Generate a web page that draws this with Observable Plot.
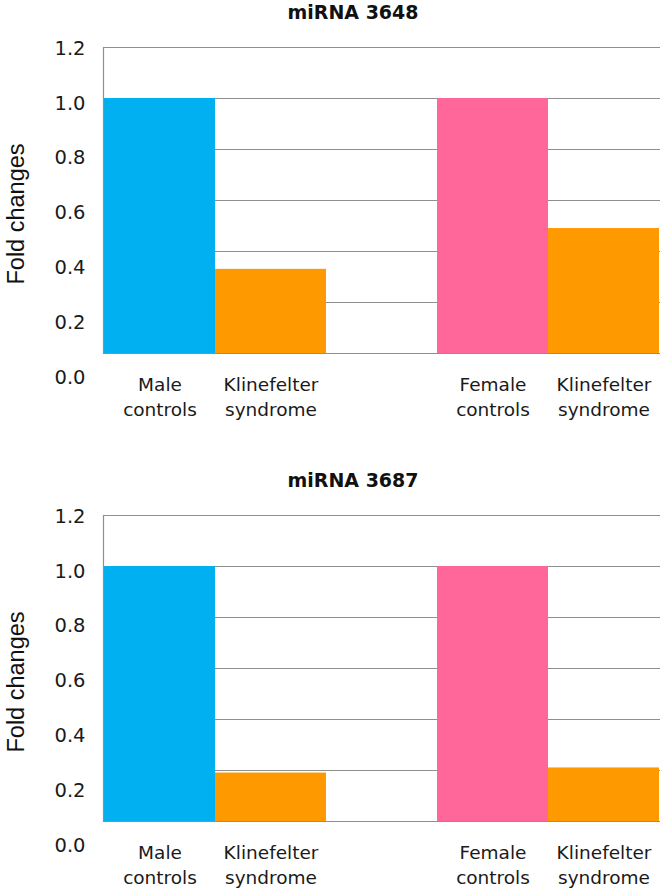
<!DOCTYPE html>
<html>
<head>
<meta charset="utf-8">
<script src="https://cdn.jsdelivr.net/npm/d3@7"></script>
<script src="https://cdn.jsdelivr.net/npm/@observablehq/plot@0.6"></script>
<style>
  html, body { margin: 0; padding: 0; background: #fff; overflow: hidden; }
  .panel { position: relative; width: 666px; }
  .panel svg { position: absolute; left: 0; top: 0; }
  .title { position: absolute; top: 1px; left: 353px; transform: translateX(-50%);
           font-family: "DejaVu Sans", sans-serif; font-weight: bold; font-size: 19px; color: #111; white-space: nowrap; }
  .ylabel { position: absolute; left: 16px; transform: translate(-50%, -50%) rotate(-90deg);
            font-family: "Liberation Sans", Arial, sans-serif; font-size: 23.5px; color: #111; white-space: nowrap; }
</style>
</head>
<body>
<div id="chart"></div>
<script>
// ---- data ----
const categories = ["Male controls", "Klinefelter syndrome", "Female controls", "Klinefelter syndrome"];
const categoryKeys = ["male", "ks-male", "female", "ks-female"];
const xOrder = ["male", "ks-male", "gap", "female", "ks-female"];
const values3648 = [1.0, 0.33, 1.0, 0.49];
const values3687 = [1.0, 0.19, 1.0, 0.21];
const yTicks = [0, 0.2, 0.4, 0.6, 0.8, 1.0, 1.2];
const yTickLabels = ["0.0", "0.2", "0.4", "0.6", "0.8", "1.0", "1.2"];
const barColors = ["#00B0F0", "#FF9900", "#FF6699", "#FF9900"];
const titles = ["miRNA 3648", "miRNA 3687"];
const yTitle = "Fold changes";

const labelOf = Object.fromEntries(categoryKeys.map((k, i) => [k, categories[i].replace(" ", "\n")]));
labelOf["gap"] = "";

const H = 430;
const font = "DejaVu Sans, Verdana, sans-serif";

function panel(title, values, panelHeight) {
  const div = document.createElement("div");
  div.className = "panel";
  div.style.height = panelHeight + "px";

  const data = categoryKeys.map((k, i) => ({key: k, value: values[i], color: barColors[i]}));

  const main = Plot.plot({
    width: 666, height: H,
    marginTop: 47, marginBottom: H - 353, marginLeft: 103, marginRight: 6,
    style: {fontFamily: font, fontSize: "18px", color: "#1a1a1a", background: "transparent"},
    x: {domain: xOrder, padding: 0, label: null, tickSize: 0, tickPadding: 20,
        tickFormat: k => labelOf[k]},
    y: {domain: [0, 1.2], axis: null},
    color: {type: "identity"},
    marks: [
      Plot.ruleY(yTicks.filter(d => d > 0), {stroke: "#8f8f8f", strokeWidth: 1.2}),
      Plot.barY(data, {x: "key", y: "value", fill: "color"}),
      Plot.ruleY([0], {stroke: "#8f8f8f", strokeWidth: 1.2}),
      Plot.frame({anchor: "left", stroke: "#8f8f8f", strokeWidth: 1.2}),
      Plot.axisX({tickSize: 0, tickPadding: 19, lineHeight: 1.38, fontSize: 18.5, fill: "#1a1a1a",
                  tickFormat: k => labelOf[k], label: null})
    ]
  });

  const axis = Plot.plot({
    width: 103, height: H,
    marginTop: 48, marginBottom: H - 377, marginLeft: 86, marginRight: 0,
    style: {fontFamily: font, fontSize: "19.5px", color: "#1a1a1a", background: "transparent"},
    y: {domain: [0, 1.2]},
    marks: [
      Plot.axisY(yTicks, {tickSize: 0, tickPadding: 1, fontSize: 19.5, fill: "#1a1a1a",
                          tickFormat: d => yTickLabels[yTicks.indexOf(d)], label: null})
    ]
  });

  div.appendChild(main);
  div.appendChild(axis);

  const t = document.createElement("div");
  t.className = "title";
  t.textContent = title;
  div.appendChild(t);

  const yl = document.createElement("div");
  yl.className = "ylabel";
  yl.style.top = "214px";
  yl.textContent = yTitle;
  div.appendChild(yl);
  return div;
}

const root = document.getElementById("chart");
root.appendChild(panel(titles[0], values3648, 468));
root.appendChild(panel(titles[1], values3687, 423));
</script>
</body>
</html>
